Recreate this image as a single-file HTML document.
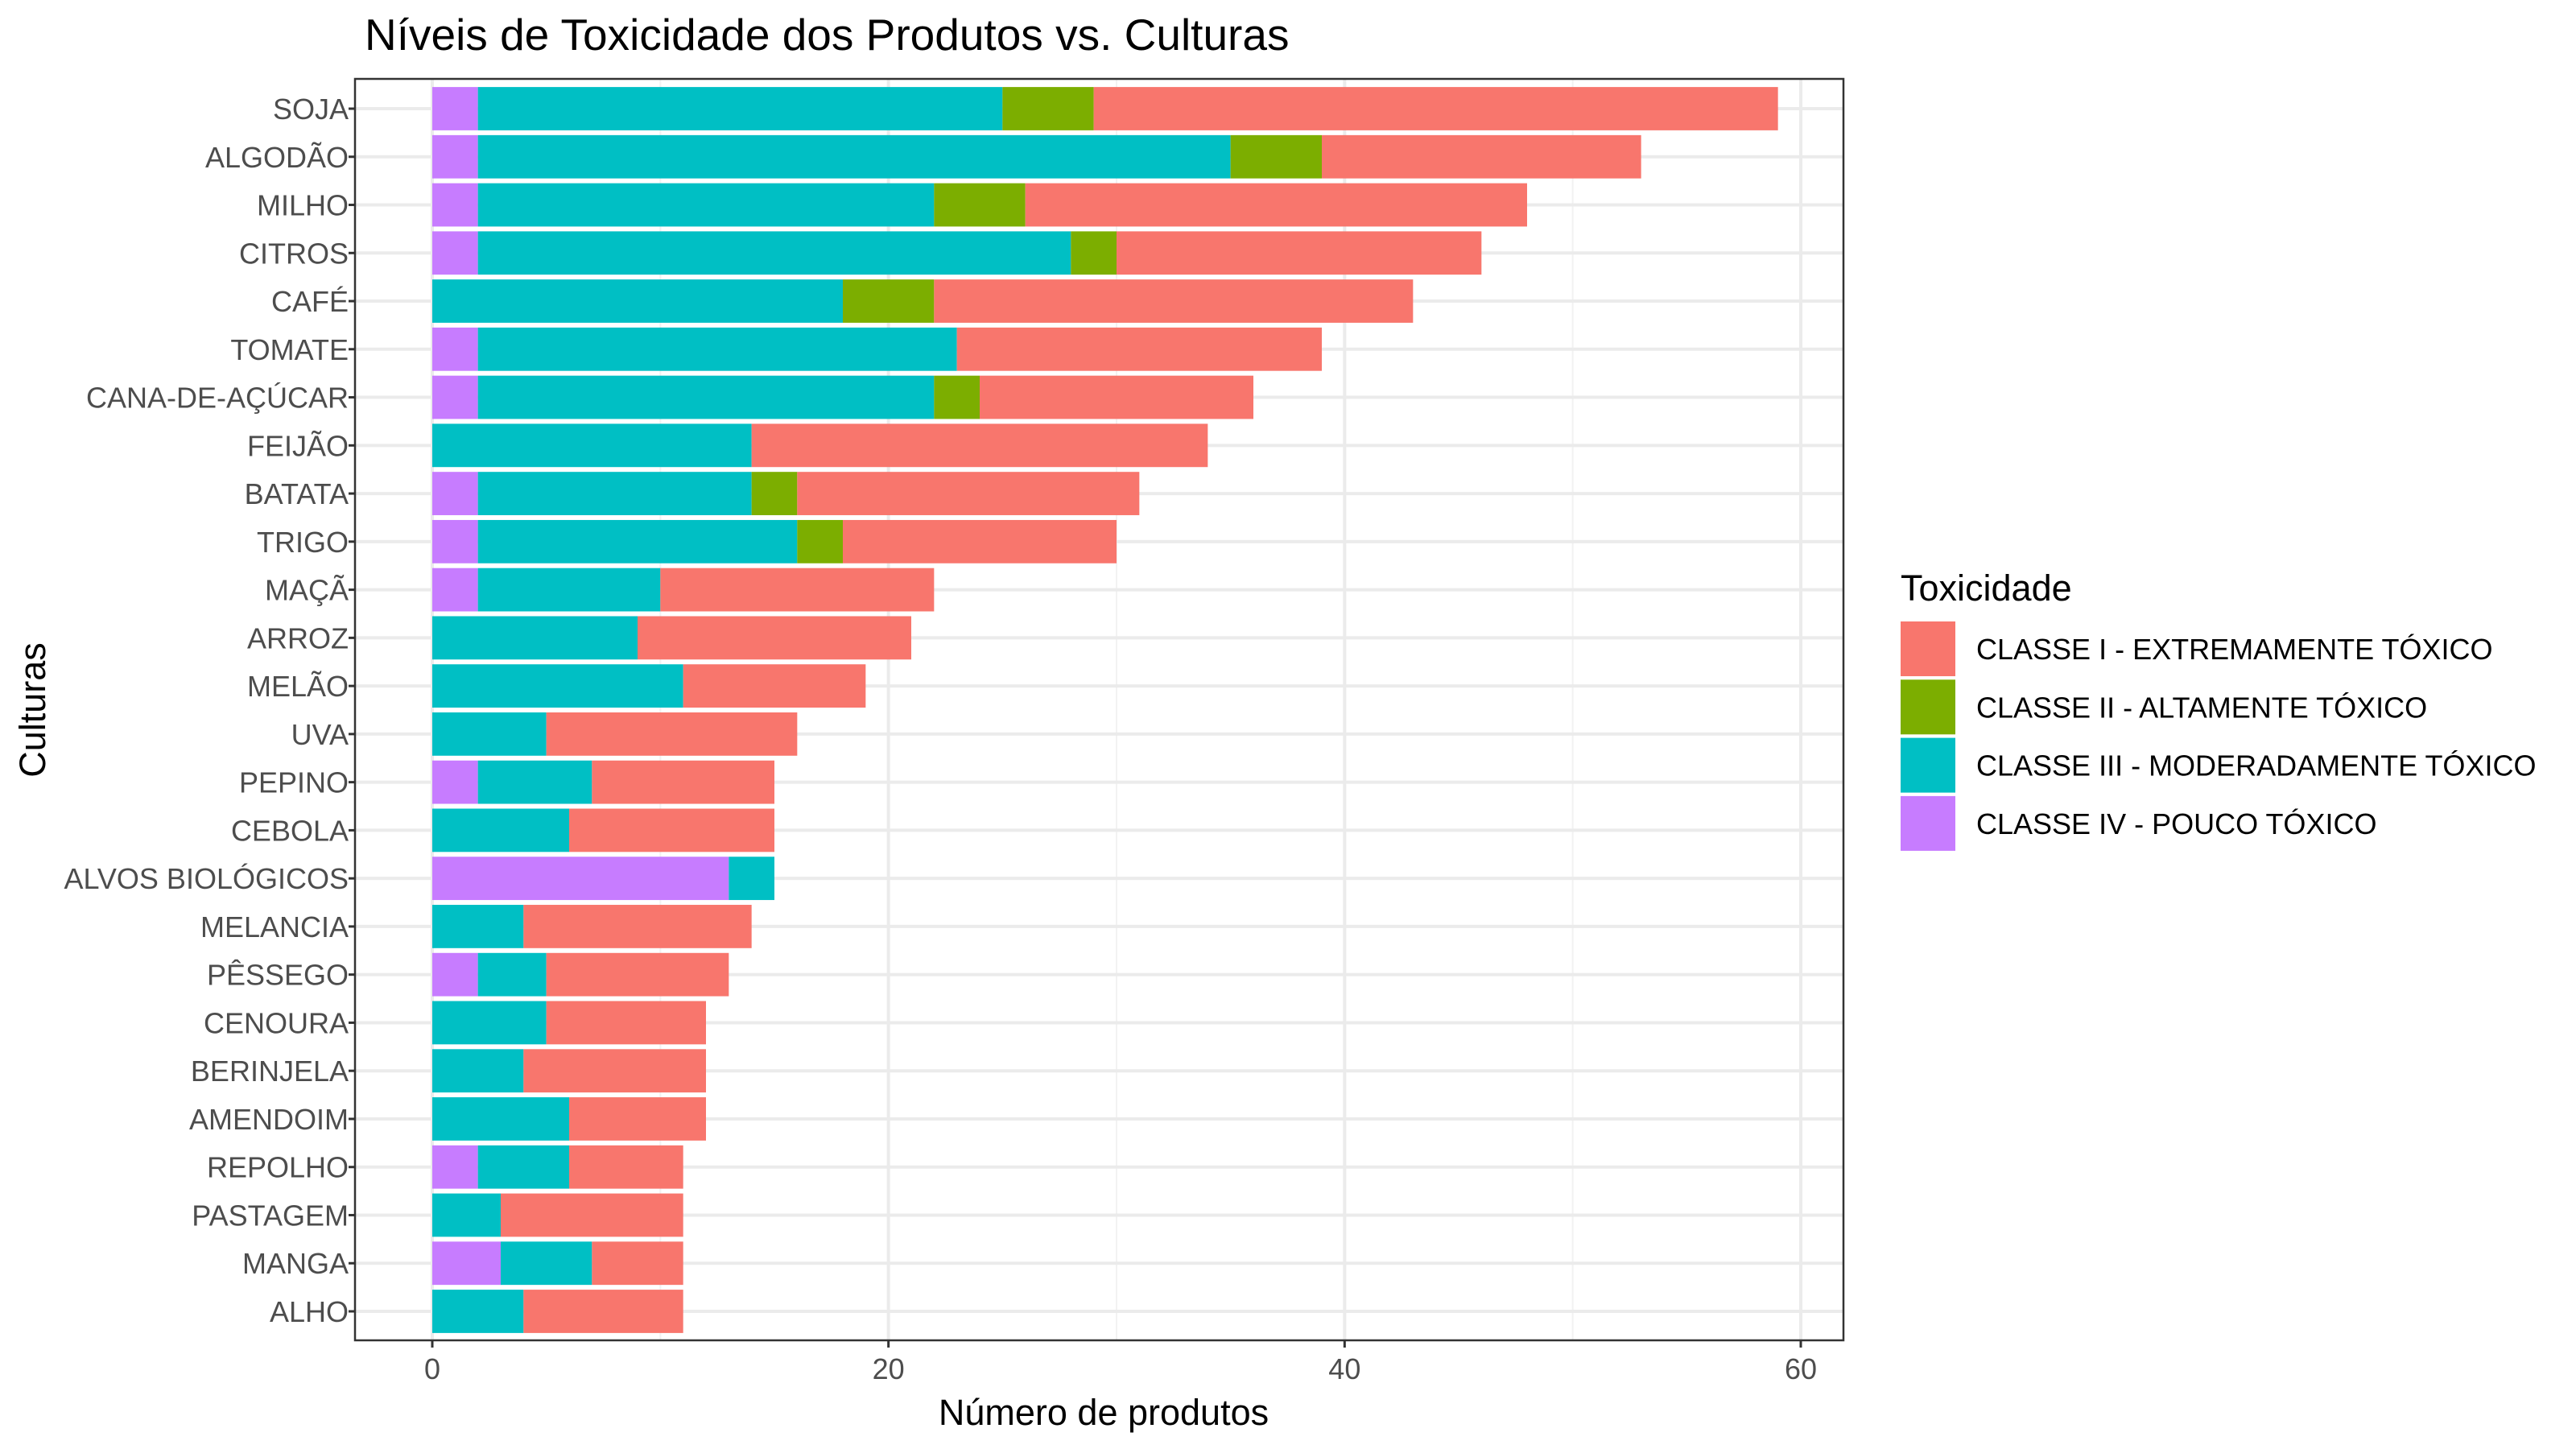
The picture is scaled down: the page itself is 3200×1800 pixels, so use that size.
<!DOCTYPE html>
<html><head><meta charset="utf-8"><style>
body{margin:0;background:#fff;}
svg{display:block;font-family:"Liberation Sans",sans-serif;}
</style></head><body>
<svg id="chart" width="3200" height="1800" viewBox="0 0 3200 1800">
<rect width="3200" height="1800" fill="#fff"/>
<text x="453" y="62" font-size="55" fill="#000">Níveis de Toxicidade dos Produtos vs. Culturas</text>
<g id="grid"></g>
<g id="bars"></g>
<rect x="441" y="98" width="1849" height="1567" fill="none" stroke="#333" stroke-width="2.5"/>
<g id="axes"></g>
<text x="1371" y="1770" font-size="45" text-anchor="middle" fill="#000">Número de produtos</text>
<text transform="translate(56,882) rotate(-90)" font-size="45" text-anchor="middle" fill="#000">Culturas</text>
<g id="legend">
<text x="2361" y="746" font-size="45" fill="#000">Toxicidade</text>
</g>
</svg>
<script>
const categories=["SOJA","ALGODÃO","MILHO","CITROS","CAFÉ","TOMATE","CANA-DE-AÇÚCAR","FEIJÃO","BATATA","TRIGO","MAÇÃ","ARROZ","MELÃO","UVA","PEPINO","CEBOLA","ALVOS BIOLÓGICOS","MELANCIA","PÊSSEGO","CENOURA","BERINJELA","AMENDOIM","REPOLHO","PASTAGEM","MANGA","ALHO"];
const classIV=[2,2,2,2,0,2,2,0,2,2,2,0,0,0,2,0,13,0,2,0,0,0,2,0,3,0];
const classIII=[23,33,20,26,18,21,20,14,12,14,8,9,11,5,5,6,2,4,3,5,4,6,4,3,4,4];
const classII=[4,4,4,2,4,0,2,0,2,2,0,0,0,0,0,0,0,0,0,0,0,0,0,0,0,0];
const classI=[30,14,22,16,21,16,12,20,15,12,12,12,8,11,8,9,0,10,8,7,8,6,5,8,4,7];
const xTicks=[0,20,40,60];
const xMinor=[10,30,50];
const seriesNames=["CLASSE I - EXTREMAMENTE TÓXICO","CLASSE II - ALTAMENTE TÓXICO","CLASSE III - MODERADAMENTE TÓXICO","CLASSE IV - POUCO TÓXICO"];
const seriesColors=["#F8766D","#7CAE00","#00BFC4","#C77CFF"];

const NS="http://www.w3.org/2000/svg";
const PL=441,PT=98,PW=1849,PH=1567;
const X0=537, PXU=(2237-537)/60;
const x=v=>X0+v*PXU;
const Y0=135, STEP=(1629-135)/25;
const y=i=>Y0+i*STEP;
function mk(tag,attrs,parent){const e=document.createElementNS(NS,tag);for(const k in attrs)e.setAttribute(k,attrs[k]);parent.appendChild(e);return e;}
const grid=document.getElementById('grid'),bars=document.getElementById('bars'),axes=document.getElementById('axes'),legend=document.getElementById('legend');
mk('rect',{x:PL,y:PT,width:PW,height:PH,fill:'#fff'},grid);
xMinor.forEach(v=>{const l=mk('line',{x1:x(v),x2:x(v),y1:PT,y2:PT+PH,stroke:'#F2F2F2','stroke-width':2},grid);

});
xTicks.forEach(v=>{const l=mk('line',{x1:x(v),x2:x(v),y1:PT,y2:PT+PH,stroke:'#EBEBEB','stroke-width':4},grid);

});
categories.forEach((c,i)=>{const l=mk('line',{x1:PL,x2:PL+PW,y1:y(i),y2:y(i),stroke:'#EBEBEB','stroke-width':4},grid);

});
const bh=STEP*0.9;
categories.forEach((c,i)=>{
  const segs=[classIV[i],classIII[i],classII[i],classI[i]];
  const cols=[seriesColors[3],seriesColors[2],seriesColors[1],seriesColors[0]];
  const names=['bar-class-iv','bar-class-iii','bar-class-ii','bar-class-i'];
  let acc=0;
  segs.forEach((v,k)=>{
    if(v>0){const r=mk('rect',{x:x(acc),y:y(i)-bh/2,width:x(acc+v)-x(acc),height:bh,fill:cols[k]},bars);
    
    }
    acc+=v;
  });
  const t=mk('text',{x:433,y:y(i)+13,'font-size':36,'text-anchor':'end',fill:'#4D4D4D'},axes);
  t.textContent=c;
  
  
  const tk=mk('line',{x1:433,x2:PL,y1:y(i),y2:y(i),stroke:'#333','stroke-width':3},axes);
  
  
});
xTicks.forEach(v=>{
  const tk=mk('line',{x1:x(v),x2:x(v),y1:PT+PH,y2:PT+PH+9,stroke:'#333','stroke-width':3},axes);
  
  
  const t=mk('text',{x:x(v),y:1713,'font-size':36,'text-anchor':'middle',fill:'#4D4D4D'},axes);
  t.textContent=v;
  
  
});
seriesNames.forEach((n,k)=>{
  const cy=806+k*72.3;
  const r=mk('rect',{x:2361,y:cy-34,width:68,height:68,fill:seriesColors[k]},legend);
  
  
  const t=mk('text',{x:2455,y:cy+13,'font-size':36,fill:'#000'},legend);
  t.textContent=n;
  
  
});
</script>
</body></html>
